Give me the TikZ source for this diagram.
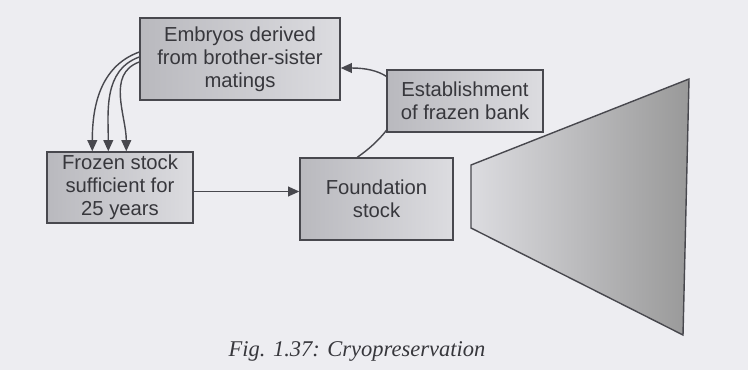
\documentclass[tikz,border=0pt]{standalone}
\usepackage{fontspec}
\setmainfont{Liberation Sans}
\newfontfamily\captionfont{Liberation Serif}
\usetikzlibrary{arrows.meta,positioning}
\definecolor{PaperGray}{RGB}{237,237,241}
\definecolor{BoxDark}{RGB}{185,185,190}
\definecolor{BoxLight}{RGB}{220,220,224}
\definecolor{EdgeGray}{RGB}{72,72,78}
\definecolor{InkGray}{RGB}{55,55,60}

\begin{document}
\begin{tikzpicture}[x=0.025cm,y=-0.025cm,
    stockbox/.style={draw=EdgeGray, line width=1pt, left color=BoxDark, right color=BoxLight,
        text=InkGray, align=center, inner sep=0pt,
        font=\fontsize{14.4}{16.5}\selectfont},
    flow/.style={draw=EdgeGray, line width=1pt, -{Triangle[length=8pt,width=7pt]}}]
    % Page background
    \fill[PaperGray] (0,0) rectangle (748,370);
    \useasboundingbox (0,0) rectangle (748,370);

    % Boxes
    \node[stockbox, minimum width=5cm, minimum height=2.05cm] (embryos) at (240,59)
        {Embryos derived\\from brother-sister\\matings};
    \node[stockbox, minimum width=3.65cm, minimum height=1.775cm] (frozen) at (120,187.5)
        {Frozen stock\\sufficient for\\25 years};
    \node[stockbox, minimum width=3.825cm, minimum height=2.05cm] (found) at (376.5,199)
        {Foundation\\stock};

    % Three lines from the embryos to the frozen stock
    \draw[flow] ([yshift=0.175cm]embryos.west) to[out=200,in=90] ([xshift=1.15cm]frozen.north west);
    \draw[flow] ([yshift=0.05cm]embryos.west) to[out=200,in=90] ([xshift=1.55cm]frozen.north west);
    \draw[flow] ([yshift=-0.075cm]embryos.west) to[out=200,in=90] ([xshift=2.0cm]frozen.north west);

    % Frozen stock feeds the foundation stock
    \draw[flow] ([yshift=-0.1cm]frozen.east) -- ([yshift=-0.1cm]frozen.east -| found.west);

    % Loop back to the embryos, behind the bank box
    \draw[flow] ([xshift=1.45cm]found.north west) to[out=35,in=0,looseness=2] ([yshift=-0.225cm]embryos.east);
    \node[stockbox, minimum width=3.9cm, minimum height=1.55cm] (bank) at (465,101)
        {Establishment\\of frazen bank};

    % Expansion of the stock
    \shade[left color=BoxLight, right color=gray!80, draw=EdgeGray, line width=1pt]
        (471,165) -- (689,79) -- (683,335) -- (471,228) -- cycle;

    % Caption
    \node[text=InkGray, font=\captionfont\itshape\fontsize{16}{18}\selectfont] (caption) at (357,351)
        {Fig. 1.37: Cryopreservation};
\end{tikzpicture}
\end{document}
